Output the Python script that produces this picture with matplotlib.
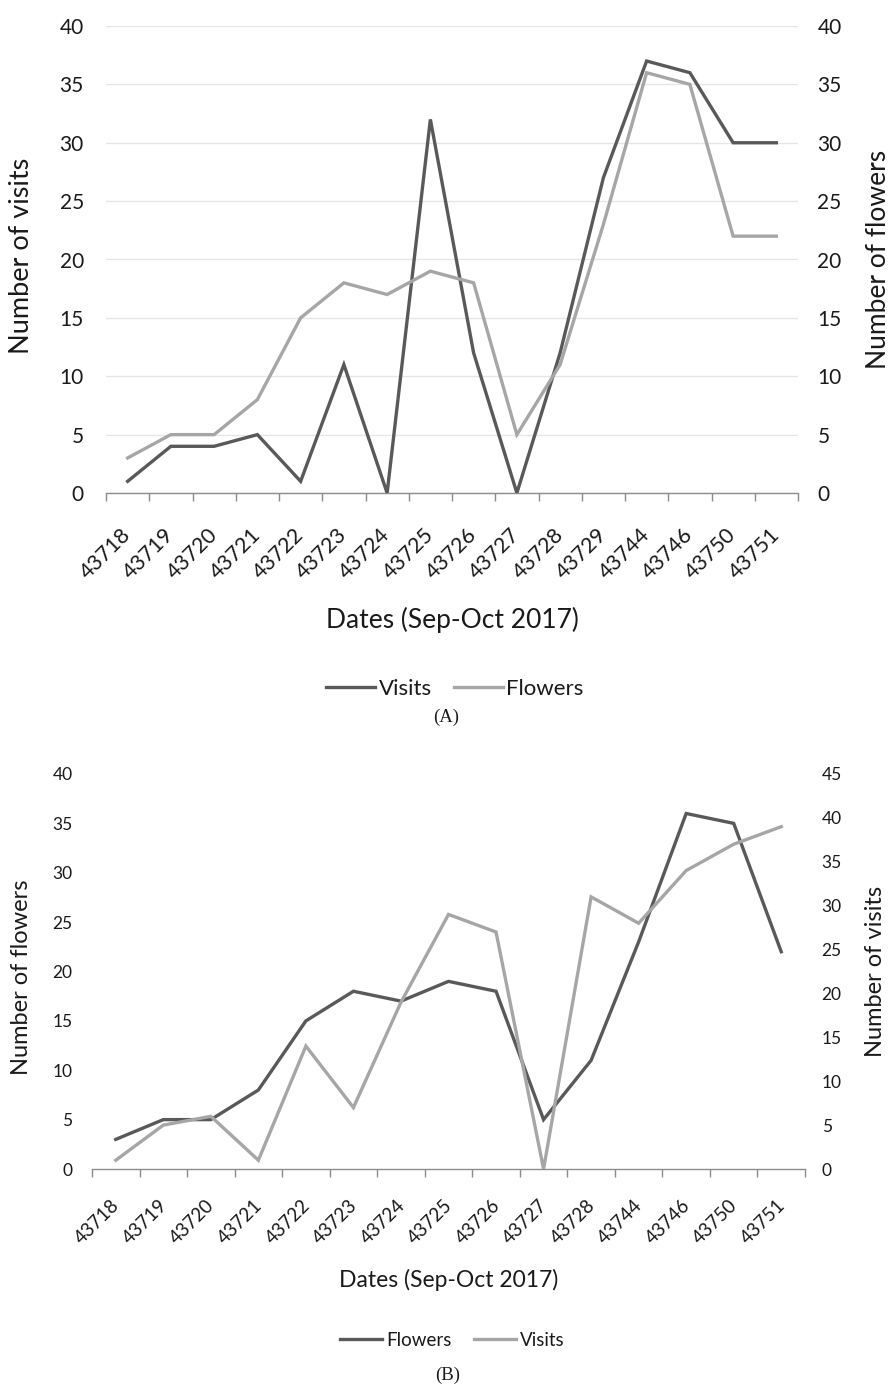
import matplotlib
matplotlib.use("Agg")
import matplotlib.pyplot as plt
import matplotlib.transforms as mtransforms

plt.rcParams['font.family'] = ['Lato', 'DejaVu Sans']

# Panel A data
dates_a = ["43718", "43719", "43720", "43721", "43722", "43723", "43724", "43725",
           "43726", "43727", "43728", "43729", "43744", "43746", "43750", "43751"]
visits_a = [1, 4, 4, 5, 1, 11, 0, 32, 12, 0, 12, 27, 37, 36, 30, 30]
flowers_a = [3, 5, 5, 8, 15, 18, 17, 19, 18, 5, 11, 23, 36, 35, 22, 22]

# Panel B data
dates_b = ["43718", "43719", "43720", "43721", "43722", "43723", "43724", "43725",
           "43726", "43727", "43728", "43744", "43746", "43750", "43751"]
flowers_b = [3, 5, 5, 8, 15, 18, 17, 19, 18, 5, 11, 23, 36, 35, 22]
visits_b = [1, 5, 6, 1, 14, 7, 19, 29, 27, 0, 31, 28, 34, 37, 39]

DARK = '#595959'
LIGHT = '#A6A6A6'
AXC = '#8C8C8C'
TXT = '#1a1a1a'

W, H = 893, 1387
fig = plt.figure(figsize=(W / 100, H / 100), dpi=100)


def fx(px):
    return px / W


def fy(py):
    return 1 - py / H


def make_panel(rect, cats, left_vals, right_vals, left_color, right_color,
               left_max, right_max, left_step, right_step, tick_fs, xtick_fs, lab_pad,
               x_off, grid, ylw):
    ax = fig.add_axes(rect)
    n = len(cats)
    x = list(range(n))
    l1, = ax.plot(x, left_vals, color=left_color, lw=ylw, solid_joinstyle='miter', zorder=3)
    ax2 = ax.twinx()
    l2, = ax2.plot(x, right_vals, color=right_color, lw=ylw, solid_joinstyle='miter', zorder=3)
    for a in (ax, ax2):
        a.set_xlim(-0.5, n - 0.5)
        for s in ('top', 'left', 'right', 'bottom'):
            a.spines[s].set_visible(False)
    ax.spines['bottom'].set_visible(True)
    ax.spines['bottom'].set_color(AXC)
    ax.spines['bottom'].set_linewidth(1.0)
    ax.set_ylim(0, left_max)
    ax2.set_ylim(0, right_max)
    ax.set_yticks(range(0, left_max + 1, left_step))
    ax2.set_yticks(range(0, right_max + 1, right_step))
    ax.tick_params(axis='y', length=0, pad=lab_pad[0], labelsize=tick_fs, labelcolor=TXT)
    ax2.tick_params(axis='y', length=0, pad=lab_pad[1], labelsize=tick_fs, labelcolor=TXT)
    if grid:
        ax.yaxis.grid(True, color='#E6E6E6', lw=1.0)
        ax.set_axisbelow(True)
    ax.set_xticks([i - 0.5 for i in range(n + 1)], minor=True)
    ax.set_xticks(x)
    ax.set_xticklabels(cats, rotation=45, ha='right', va='top')
    ax.tick_params(axis='x', which='major', length=0, pad=lab_pad[2], labelsize=xtick_fs, labelcolor=TXT)
    ax.tick_params(axis='x', which='minor', length=6, width=1.0, color=AXC, direction='out')
    offset = mtransforms.ScaledTranslation(x_off / 100, 0, fig.dpi_scale_trans)
    for lab in ax.get_xticklabels():
        lab.set_transform(lab.get_transform() + offset)
    return ax, ax2, l1, l2


# Panel A
axA, axA2, a1, a2 = make_panel(
    [fx(106), fy(493), fx(798) - fx(106), fy(26) - fy(493)],
    dates_a, visits_a, flowers_a, DARK, LIGHT, 40, 40, 5, 5,
    15, 15.5, (16, 14, 23), 7, True, 2.4)
fig.text(fx(22), fy(256), 'Number of visits', rotation=90, ha='center', va='center',
         fontsize=19.5, color=TXT)
fig.text(fx(879), fy(259), 'Number of flowers', rotation=90, ha='center', va='center',
         fontsize=19, color=TXT)
fig.text(fx(452), fy(620), 'Dates (Sep-Oct 2017)', ha='center', va='center',
         fontsize=19, color=TXT)
fig.legend([a1, a2], ['Visits', 'Flowers'], loc='center', bbox_to_anchor=(fx(455), fy(689)),
           ncol=2, frameon=False, fontsize=16, handlelength=2.2, handletextpad=0.15,
           columnspacing=1.0, labelcolor=TXT)
fig.text(fx(446), fy(717), '(A)', ha='center', va='center', fontsize=13.5,
         family='Liberation Serif', color=TXT)

# Panel B
axB, axB2, b1, b2 = make_panel(
    [fx(92), fy(1169), fx(805) - fx(92), fy(774) - fy(1169)],
    dates_b, flowers_b, visits_b, DARK, LIGHT, 40, 45, 5, 5,
    12.5, 13.5, (14, 12, 20), 7, False, 2.4)
fig.text(fx(22), fy(977), 'Number of flowers', rotation=90, ha='center', va='center',
         fontsize=17, color=TXT)
fig.text(fx(876), fy(971), 'Number of visits', rotation=90, ha='center', va='center',
         fontsize=17, color=TXT)
fig.text(fx(449), fy(1280), 'Dates (Sep-Oct 2017)', ha='center', va='center',
         fontsize=16.5, color=TXT)
fig.legend([b1, b2], ['Flowers', 'Visits'], loc='center', bbox_to_anchor=(fx(452), fy(1340)),
           ncol=2, frameon=False, fontsize=13.5, handlelength=2.25, handletextpad=0.2,
           columnspacing=1.2, labelcolor=TXT)
fig.text(fx(448), fy(1375), '(B)', ha='center', va='center', fontsize=13.5,
         family='Liberation Serif', color=TXT)

fig.savefig('out.png', dpi=100)
